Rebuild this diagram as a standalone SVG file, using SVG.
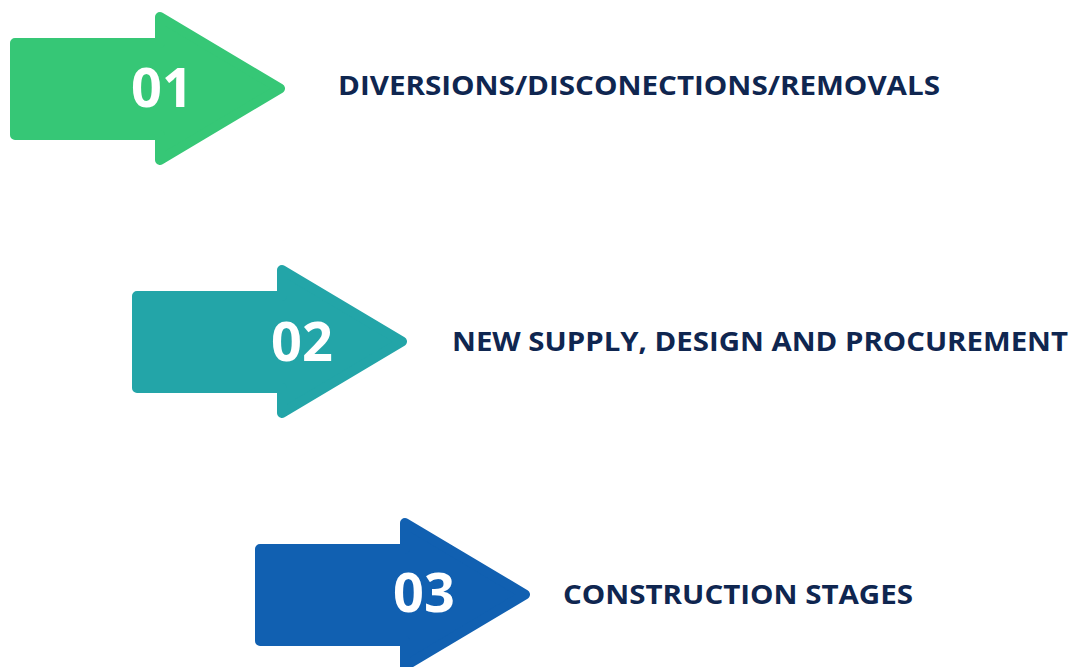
<svg xmlns="http://www.w3.org/2000/svg" xmlns:xlink="http://www.w3.org/1999/xlink" width="1079" height="667" viewBox="0 0 1079 667">
<style>
.arrow { stroke-width: 10; stroke-linejoin: round; }
.num { font-family: "Open Sans", "Liberation Sans", sans-serif; font-weight: bold; font-size: 54px; fill: #ffffff; text-anchor: middle; }
.label { font-family: "Open Sans", "Liberation Sans", sans-serif; font-weight: bold; font-size: 26px; fill: #0f2650; }
</style>
<defs>
<path id="arrowShape" d="M15,43 L160,43 L160,17 L280,88.5 L160,160 L160,135 L15,135 Z"/>
</defs>
<rect width="1079" height="667" fill="#ffffff"/>
<g id="step1">
<use xlink:href="#arrowShape" href="#arrowShape" class="arrow" fill="#36c776" stroke="#36c776"/>
<text class="num" x="162" y="107">01</text>
<text class="label" x="338" y="95" textLength="602" lengthAdjust="spacingAndGlyphs">DIVERSIONS/DISCONECTIONS/REMOVALS</text>
</g>
<g id="step2">
<use xlink:href="#arrowShape" href="#arrowShape" transform="translate(122,253)" class="arrow" fill="#23a5a8" stroke="#23a5a8"/>
<text class="num" x="302" y="361">02</text>
<text class="label" x="452" y="351" textLength="616" lengthAdjust="spacingAndGlyphs">NEW SUPPLY, DESIGN AND PROCUREMENT</text>
</g>
<g id="step3">
<use xlink:href="#arrowShape" href="#arrowShape" transform="translate(245,506)" class="arrow" fill="#1160b1" stroke="#1160b1"/>
<text class="num" x="424" y="612">03</text>
<text class="label" x="563" y="604" textLength="350" lengthAdjust="spacingAndGlyphs">CONSTRUCTION STAGES</text>
</g>
<g id="connectors"/>
</svg>
